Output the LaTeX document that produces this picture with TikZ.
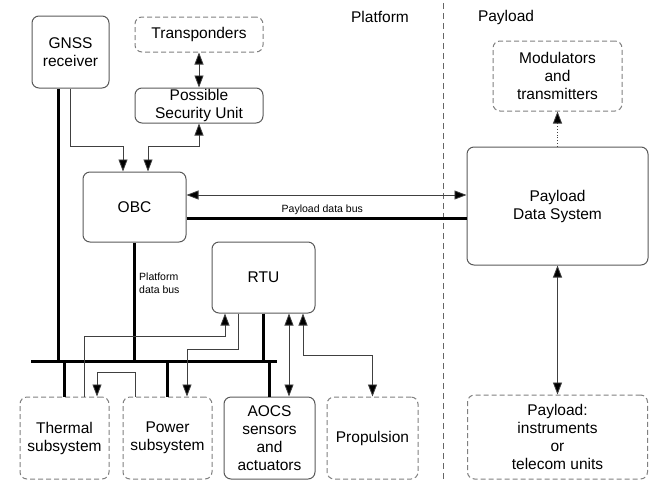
\documentclass[tikz,border=0pt]{standalone}
\usepackage{fontspec}
\setmainfont{Liberation Sans}
\usetikzlibrary{arrows.meta,calc}
\begin{document}
\begin{tikzpicture}[x=1pt,y=-1pt,
  box/.style={draw=black!65,line width=1pt,rounded corners=7pt,align=center,inner sep=0pt,font=\fontsize{15.5}{18}\selectfont},
  dbox/.style={box,draw=black!50,dash pattern=on 5pt off 3pt},
  thin/.style={line width=0.8pt,draw=black!75},
  thickbus/.style={line width=3pt,draw=black},
  tip/.style={-{Triangle[length=12pt,width=9pt,fill=black]}},
  tips/.style={{Triangle[length=12pt,width=9pt,fill=black]}-{Triangle[length=12pt,width=9pt,fill=black]}},
  small/.style={font=\fontsize{10.5}{13}\selectfont,inner sep=1pt}]
\useasboundingbox (0,0) rectangle (650,480);
% boxes
\node[box,minimum width=77pt,minimum height=72pt] (GNSS) at (70.5,52) {GNSS\\receiver};
\node[dbox,minimum width=128pt,minimum height=35pt] (Trans) at (199,34.5) {Transponders};
\node[box,minimum width=128pt,minimum height=35pt] (PSU) at (199,105.5) {Possible\\Security Unit};
\node[box,minimum width=103pt,minimum height=70pt] (OBC) at (134.5,207) {OBC};
\node[box,minimum width=181pt,minimum height=118pt] (PDS) at (557.5,206) {Payload\\Data System};
\node[dbox,minimum width=129pt,minimum height=70pt] (Mod) at (557.5,76) {Modulators\\and\\transmitters};
\node[dbox,minimum width=180pt,minimum height=84pt] (PLI) at (557.5,437) {Payload:\\instruments\\or\\telecom units};
\node[box,minimum width=103pt,minimum height=71pt] (RTU) at (263.5,277.5) {RTU};
\node[dbox,minimum width=89pt,minimum height=82pt] (Thermal) at (64.5,438) {Thermal\\subsystem};
\node[dbox,minimum width=89pt,minimum height=82pt] (Power) at (167.5,438) {Power\\subsystem};
\node[box,minimum width=91pt,minimum height=82pt] (AOCS) at (269.5,438) {AOCS\\sensors\\and\\actuators};
\node[dbox,minimum width=91pt,minimum height=82pt] (Prop) at (372.5,438) {Propulsion};
% headers and divider
\node[font=\fontsize{15.5}{18}\selectfont] (hPlat) at (380,17) {Platform};
\node[font=\fontsize{15.5}{18}\selectfont] (hPay) at (506,17) {Payload};
\coordinate (divT) at (443,3);
\coordinate (divB) at (443,480);
\draw[line width=0.9pt,draw=black!60,dash pattern=on 6pt off 4pt] (divT) -- (divB);
% bus
\coordinate (busL) at (31,361);
\coordinate (busR) at (277,361);
\draw[thickbus] (busL) -- (busR);
\draw[thickbus] ([xshift=-12.5pt]GNSS.south) coordinate (g1) -- (g1 |- busL);
\draw[thickbus] (OBC.south) -- (OBC.south |- busL);
\draw[thickbus] (RTU.south) -- (RTU.south |- busL);
\draw[thickbus] (Thermal.north) -- (Thermal.north |- busL);
\draw[thickbus] (Power.north) -- (Power.north |- busL);
\draw[thickbus] (AOCS.north) -- (AOCS.north |- busL);
\node[small,anchor=west,align=left] (pdb) at (138,283.5) {Platform\\data bus};
% OBC - PDS
\draw[thin,tips] ([yshift=12pt]OBC.east) coordinate (o1) -- (o1 -| PDS.west);
\draw[thickbus] ([yshift=-11pt]OBC.east) coordinate (o2) -- (o2 -| PDS.west)
  node[small,pos=0.485,above=1pt] (plb) {Payload data bus};
% top connectors
\draw[thin,tips] (Trans.south) -- (PSU.north);
\draw[thin,tip] ([xshift=-0.5pt]GNSS.south) -- ++(0,58) -| ([xshift=-11.5pt]OBC.north);
\draw[thin,tips] (PSU.south) -- ++(0,23) -| ([xshift=13.5pt]OBC.north);
% payload
\draw[thin,tip,dotted] (PDS.north) -- (Mod.south);
\draw[thin,tips] (PDS.south) -- (PLI.north);
% RTU connectors
\draw[thin,tip] ([xshift=19.5pt]Thermal.north) -- ++(0,-60) -| ([xshift=-38.5pt]RTU.south);
\draw[thin,tip] ([xshift=-32.5pt]Power.north) -- ++(0,-24) -| ([xshift=32.5pt]Thermal.north);
\draw[thin,tip] ([xshift=-25.5pt]RTU.south) -- ++(0,36) -| ([xshift=19.5pt]Power.north);
\draw[thin,tips] ([xshift=25.5pt]RTU.south) coordinate (r1) -- (r1 |- AOCS.north);
\draw[thin,tips] ([xshift=39.5pt]RTU.south) -- ++(0,42) -| (Prop.north);
\end{tikzpicture}
\end{document}
